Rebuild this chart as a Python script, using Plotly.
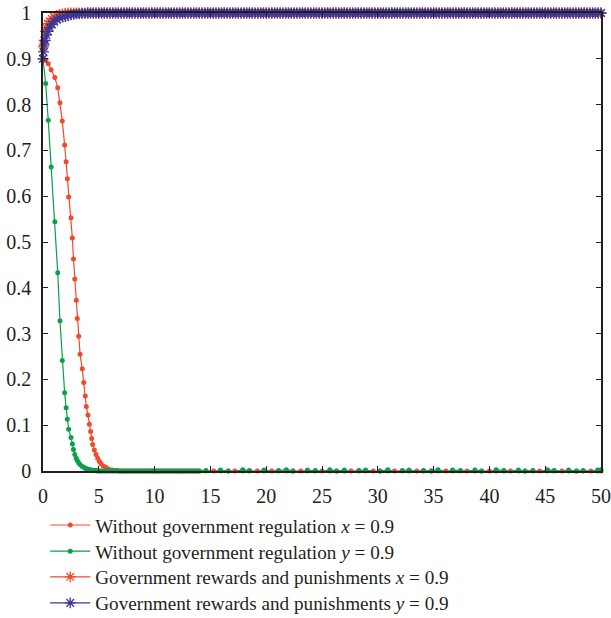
import plotly.graph_objects as go

# ---------------- data ----------------
# time grid of the "without government regulation" run
t_none_head = [0, 0.24, 0.47, 0.73, 1.06, 1.32, 1.52, 1.73, 1.94, 2.07,
               2.18, 2.30, 2.51, 2.63, 2.73, 2.85, 2.98, 3.07, 3.20, 3.32,
               3.52, 3.65, 3.79, 3.88, 4.03, 4.15, 4.27, 4.36, 4.45, 4.6,
               4.75, 4.9, 5.05, 5.2, 5.4, 5.6, 5.8, 6.0, 6.2, 6.4,
               6.6, 6.8, 7.0]
x_none_head = [0.9, 0.897, 0.889, 0.876, 0.859, 0.837, 0.804, 0.764, 0.712, 0.675,
               0.638, 0.598, 0.553, 0.509, 0.463, 0.419, 0.373, 0.333, 0.294, 0.255,
               0.223, 0.193, 0.164, 0.141, 0.122, 0.102, 0.086, 0.071, 0.058, 0.046,
               0.036, 0.028, 0.021, 0.016, 0.011, 0.008, 0.005, 0.003, 0.002, 0.001,
               0.001, 0.0, 0.0]
y_none_head = [0.9, 0.846, 0.766, 0.664, 0.544, 0.433, 0.328, 0.241, 0.171, 0.138,
               0.113, 0.091, 0.073, 0.059, 0.047, 0.036, 0.028, 0.023, 0.018, 0.014,
               0.010, 0.008, 0.006, 0.005, 0.004, 0.003, 0.002, 0.002, 0.001, 0.001,
               0.001, 0.0, 0.0, 0.0, 0.0, 0.0, 0.0, 0.0, 0.0, 0.0,
               0.0, 0.0, 0.0]
t_none_tail = [7.2, 7.4, 7.6, 7.8, 8.0, 8.2, 8.4,
               8.6, 8.8, 9.0, 9.2, 9.4, 9.6, 9.8,
               10.0, 10.2, 10.4, 10.6, 10.8, 11.0, 11.2,
               11.4, 11.6, 11.8, 12.0, 12.2, 12.4, 12.6,
               12.8, 13.0, 13.2, 13.4, 13.6, 13.8, 14.0,
               14.6, 15.3, 15.9, 16.6, 17.2, 17.9, 18.5,
               19.2, 19.8, 20.5, 21.1, 21.8, 22.4, 23.1,
               23.7, 24.4, 25.0, 25.7, 26.3, 27.0, 27.6,
               28.3, 28.9, 29.6, 30.2, 30.9, 31.5, 32.2,
               32.8, 33.5, 34.1, 34.8, 35.4, 36.1, 36.7,
               37.4, 38.0, 38.7, 39.3, 40.0, 40.6, 41.3,
               41.9, 42.6, 43.2, 43.9, 44.5, 45.2, 45.8,
               46.5, 47.1, 47.8, 48.4, 49.1, 49.7, 50.0]
x_none_tail = [0, 0, 0, 0, 0, 0, 0,
               0, 0, 0, 0, 0, 0, 0,
               0, 0, 0, 0, 0, 0, 0,
               0, 0, 0, 0, 0, 0, 0,
               0, 0, 0, 0, 0, 0, 0,
               0, 0, 0, 0, 0, 0, 0,
               0, 0, 0, 0, 0, 0, 0,
               0, 0, 0, 0, 0, 0, 0,
               0, 0, 0, 0, 0, 0, 0,
               0, 0, 0, 0, 0, 0, 0,
               0, 0, 0, 0, 0, 0, 0,
               0, 0, 0, 0, 0, 0, 0,
               0, 0, 0, 0, 0, 0, 0]
y_none_tail = [0, 0, 0, 0, 0, 0, 0,
               0, 0, 0, 0, 0, 0, 0,
               0, 0, 0, 0, 0, 0, 0,
               0, 0, 0, 0, 0, 0, 0,
               0, 0, 0, 0, 0, 0, 0,
               0.001, -0.002, 0.002, 0.0, -0.001, 0.003, 0.001,
               -0.002, 0.002, -0.001, 0.001, 0.003, 0.0, -0.002,
               0.002, 0.001, -0.001, 0.003, 0.0, 0.002, -0.002,
               0.001, 0.002, -0.001, 0.0, 0.003, -0.002, 0.001,
               0.002, -0.001, 0.001, 0.0, 0.003, -0.002, 0.002,
               0.001, -0.001, 0.002, 0.0, -0.002, 0.003, 0.001,
               -0.001, 0.002, 0.0, 0.001, -0.002, 0.003, 0.001,
               -0.001, 0.002, 0.0, 0.001, -0.001, 0.002, 0.003]

# time grid of the "government rewards and punishments" run
t_gov_head = [0, 0.05, 0.1, 0.2, 0.3, 0.45, 0.6, 0.8, 1.0, 1.25, 1.5, 1.75, 2.0]
x_gov_head = [0.9, 0.926, 0.94, 0.96, 0.968, 0.977, 0.982, 0.987, 0.991, 0.994,
              0.997, 0.998, 0.999]
y_gov_head = [0.9, 0.915, 0.93, 0.94, 0.952, 0.96, 0.968, 0.975, 0.981, 0.986,
              0.989, 0.991, 0.992]
t_gov_tail = [2.25, 2.5, 2.75,
              3, 3.25, 3.5, 3.75, 4, 4.25, 4.5, 4.75, 5, 5.25, 5.5, 5.75,
              6, 6.25, 6.5, 6.75, 7, 7.25, 7.5, 7.75, 8, 8.25, 8.5, 8.75,
              9, 9.25, 9.5, 9.75, 10, 10.25, 10.5, 10.75, 11, 11.25, 11.5, 11.75,
              12, 12.25, 12.5, 12.75, 13, 13.25, 13.5, 13.75, 14, 14.25, 14.5, 14.75,
              15, 15.25, 15.5, 15.75, 16, 16.25, 16.5, 16.75, 17, 17.25, 17.5, 17.75,
              18, 18.25, 18.5, 18.75, 19, 19.25, 19.5, 19.75, 20, 20.25, 20.5, 20.75,
              21, 21.25, 21.5, 21.75, 22, 22.25, 22.5, 22.75, 23, 23.25, 23.5, 23.75,
              24, 24.25, 24.5, 24.75, 25, 25.25, 25.5, 25.75, 26, 26.25, 26.5, 26.75,
              27, 27.25, 27.5, 27.75, 28, 28.25, 28.5, 28.75, 29, 29.25, 29.5, 29.75,
              30, 30.25, 30.5, 30.75, 31, 31.25, 31.5, 31.75, 32, 32.25, 32.5, 32.75,
              33, 33.25, 33.5, 33.75, 34, 34.25, 34.5, 34.75, 35, 35.25, 35.5, 35.75,
              36, 36.25, 36.5, 36.75, 37, 37.25, 37.5, 37.75, 38, 38.25, 38.5, 38.75,
              39, 39.25, 39.5, 39.75, 40, 40.25, 40.5, 40.75, 41, 41.25, 41.5, 41.75,
              42, 42.25, 42.5, 42.75, 43, 43.25, 43.5, 43.75, 44, 44.25, 44.5, 44.75,
              45, 45.25, 45.5, 45.75, 46, 46.25, 46.5, 46.75, 47, 47.25, 47.5, 47.75,
              48, 48.25, 48.5, 48.75, 49, 49.25, 49.5, 49.75, 50]
x_gov_tail = [1, 1, 1,
              1, 1, 1, 1, 1, 1, 1, 1, 1, 1, 1, 1,
              1, 1, 1, 1, 1, 1, 1, 1, 1, 1, 1, 1,
              1, 1, 1, 1, 1, 1, 1, 1, 1, 1, 1, 1,
              1, 1, 1, 1, 1, 1, 1, 1, 1, 1, 1, 1,
              1, 1, 1, 1, 1, 1, 1, 1, 1, 1, 1, 1,
              1, 1, 1, 1, 1, 1, 1, 1, 1, 1, 1, 1,
              1, 1, 1, 1, 1, 1, 1, 1, 1, 1, 1, 1,
              1, 1, 1, 1, 1, 1, 1, 1, 1, 1, 1, 1,
              1, 1, 1, 1, 1, 1, 1, 1, 1, 1, 1, 1,
              1, 1, 1, 1, 1, 1, 1, 1, 1, 1, 1, 1,
              1, 1, 1, 1, 1, 1, 1, 1, 1, 1, 1, 1,
              1, 1, 1, 1, 1, 1, 1, 1, 1, 1, 1, 1,
              1, 1, 1, 1, 1, 1, 1, 1, 1, 1, 1, 1,
              1, 1, 1, 1, 1, 1, 1, 1, 1, 1, 1, 1,
              1, 1, 1, 1, 1, 1, 1, 1, 1, 1, 1, 1,
              1, 1, 1, 1, 1, 1, 1, 1, 1]
y_gov_tail = [0.994, 0.996, 0.997,
              0.998, 0.998, 0.999, 0.999, 1, 1, 1, 1, 1, 1, 1, 1,
              1, 1, 1, 1, 1, 1, 1, 1, 1, 1, 1, 1,
              1, 1, 1, 1, 1, 1, 1, 1, 1, 1, 1, 1,
              1, 1, 1, 1, 1, 1, 1, 1, 1, 1, 1, 1,
              1, 1, 1, 1, 1, 1, 1, 1, 1, 1, 1, 1,
              1, 1, 1, 1, 1, 1, 1, 1, 1, 1, 1, 1,
              1, 1, 1, 1, 1, 1, 1, 1, 1, 1, 1, 1,
              1, 1, 1, 1, 1, 1, 1, 1, 1, 1, 1, 1,
              1, 1, 1, 1, 1, 1, 1, 1, 1, 1, 1, 1,
              1, 1, 1, 1, 1, 1, 1, 1, 1, 1, 1, 1,
              1, 1, 1, 1, 1, 1, 1, 1, 1, 1, 1, 1,
              1, 1, 1, 1, 1, 1, 1, 1, 1, 1, 1, 1,
              1, 1, 1, 1, 1, 1, 1, 1, 1, 1, 1, 1,
              1, 1, 1, 1, 1, 1, 1, 1, 1, 1, 1, 1,
              1, 1, 1, 1, 1, 1, 1, 1, 1, 1, 1, 1,
              1, 1, 1, 1, 1, 1, 1, 1, 1]

series_names = [
    "Without government regulation <i>x</i> = 0.9",
    "Without government regulation <i>y</i> = 0.9",
    "Government rewards and punishments <i>x</i> = 0.9",
    "Government rewards and punishments <i>y</i> = 0.9",
]
x_ticks = [0, 5, 10, 15, 20, 25, 30, 35, 40, 45, 50]
y_ticks = [0, 0.1, 0.2, 0.3, 0.4, 0.5, 0.6, 0.7, 0.8, 0.9, 1]

# ---------------- styles ----------------
RED = "#EE4A2C"
GREEN = "#0A9F4B"
BLUE = "#3E3795"
INK = "#231F20"
FONT = "Liberation Serif"

t_none = t_none_head + t_none_tail
t_gov = t_gov_head + t_gov_tail

fig = go.Figure()
fig.add_trace(go.Scatter(
    x=t_none, y=x_none_head + x_none_tail, name=series_names[0], mode="lines+markers",
    line=dict(color=RED, width=1.2), marker=dict(symbol="circle", size=5, color=RED),
    cliponaxis=False, legend="legend"))
fig.add_trace(go.Scatter(
    x=t_none, y=y_none_head + y_none_tail, name=series_names[1], mode="lines+markers",
    line=dict(color=GREEN, width=1.2), marker=dict(symbol="circle", size=5, color=GREEN),
    cliponaxis=False, legend="legend2"))
fig.add_trace(go.Scatter(
    x=t_gov, y=x_gov_head + x_gov_tail, name=series_names[2], mode="lines+markers",
    line=dict(color=RED, width=1.2),
    marker=dict(symbol="asterisk-open", size=9, color=RED, line=dict(color=RED, width=1.3)),
    cliponaxis=False, legend="legend3"))
fig.add_trace(go.Scatter(
    x=t_gov, y=y_gov_head + y_gov_tail, name=series_names[3], mode="lines+markers",
    line=dict(color=BLUE, width=1.2),
    marker=dict(symbol="asterisk-open", size=9, color=BLUE, line=dict(color=BLUE, width=1.3)),
    cliponaxis=False, legend="legend4"))

axis_common = dict(
    showgrid=False, zeroline=False, showline=True, linecolor=INK, linewidth=1.5,
    mirror="ticks", ticks="inside", ticklen=5, tickwidth=1, tickcolor=INK,
    tickfont=dict(family=FONT, size=20, color=INK), automargin=False,
)
fig.update_xaxes(range=[0, 50], tickvals=x_ticks, ticklabelstandoff=6, **axis_common)
fig.update_yaxes(range=[0, 1], tickvals=y_ticks, ticklabelstandoff=6, **axis_common)

leg_common = dict(x=0.004, xanchor="left", yanchor="middle", bgcolor="rgba(0,0,0,0)",
                  font=dict(family=FONT, size=19.2, color=INK), itemwidth=40)
fig.update_layout(
    width=611, height=618,
    margin=dict(l=43, r=10, t=13, b=147, autoexpand=False),
    plot_bgcolor="white", paper_bgcolor="white",
    font=dict(family=FONT, size=19.2, color=INK),
    showlegend=True,
    legend=dict(y=-0.118, **leg_common),
    legend2=dict(y=-0.175, **leg_common),
    legend3=dict(y=-0.231, **leg_common),
    legend4=dict(y=-0.288, **leg_common),
)

fig.write_html("out.html", config={"displayModeBar": False},
               post_script="document.body.style.margin='0';document.body.style.overflow='hidden';")
